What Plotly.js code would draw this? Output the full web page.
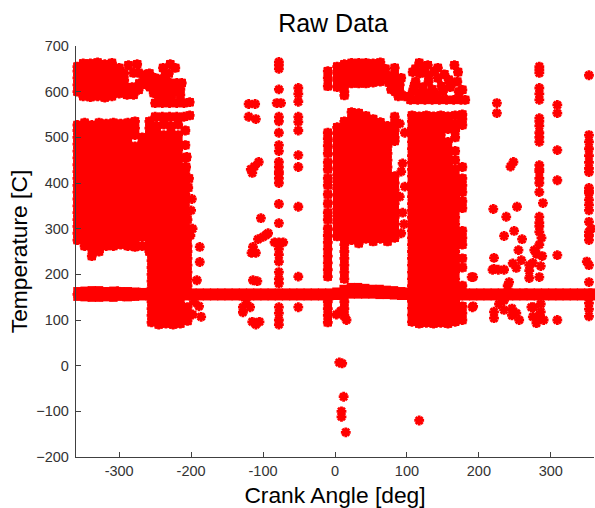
<!DOCTYPE html>
<html><head><meta charset="utf-8">
<script src="https://cdn.plot.ly/plotly-3.0.1.min.js"></script>
<style>html,body{margin:0;padding:0;background:#fff}</style></head>
<body><div id="chart" style="width:595px;height:508px"></div>
<script>
// Each region: a list of column x positions and, per column, the y readings.
const topLeftX=[-358,-350,-340,-330,-320,-310,-300,-293];
const topLeftY=[
[600,615,630,645,655],
[590,603,618,633,648,662],
[588,602,617,632,647,662],
[590,605,620,635,650,664],
[587,600,615,630,645,660],
[590,604,619,634,649,663],
[596,610,625,640,652],
[610,625,640]];
const leftBlockX=[-358,-348,-338,-328,-318,-308,-298,-288,-278,-268,-258,-248,-238,-228,-218,-208];
const leftBlockY=[
[275,290,305,320,335,350,365,380,395,410,425,440,455,470,485,500,515,527],
[262,278,293,308,323,338,353,368,383,398,413,428,443,458,473,488,503,518,532],
[240,258,272,287,302,317,332,347,362,377,392,407,422,437,452,467,482,497,512,527],
[250,265,280,295,310,325,340,355,370,385,400,415,430,445,460,475,490,505,520,532],
[262,277,292,307,322,337,352,367,382,397,412,427,442,457,472,487,502,517,530],
[262,275,290,305,320,335,350,365,380,395,410,425,440,455,470,485,500,515,532],
[265,282,297,312,327,342,357,372,387,402,417,432,447,462,477,492,507,522,530],
[262,278,293,308,323,338,353,368,383,398,413,428,443,458,473,488,503,518,532],
[260,275,290,305,320,335,350,365,380,395,410,425,440,455,470,480,505,520,535],
[262,282,297,312,327,342,357,372,387,402,417,432,447,462,477,490,500],
[250,265,280,295,310,325,340,355,370,385,400,415,430,445,460,475,490,505,520,535],
[255,270,285,300,315,330,345,360,375,390,405,420,435,450,465,480,495,510,525],
[262,277,292,307,322,337,352,367,382,397,412,427,442,457,472,487,505,528],
[255,270,285,300,315,330,345,360,375,390,405,420,435,450,465,480,495,510,525],
[262,277,292,307,322,337,352,367,382,397,412,427,442,457,472,490,505,528],
[255,270,285,300,315,330,345,360,375,390,405,420,435,455,483,515]];
const leftLowX=[-255,-245,-235,-225,-215,-205];
const leftLowY=[
[95,110,125,140,170,185,200,215,230,245,260],
[90,105,120,135,175,190,205,220,235,250],
[92,107,122,137,172,187,202,217,232,247,262],
[90,105,120,135,175,190,205,220,235,250],
[92,107,122,137,172,187,202,217,232,247,262],
[98,113,128,175,190,205,220,235,250,262,280,300,320]];
const leftUpperX=[-287,-275,-289,-280,-273,-264,-280,-273,-239,-229,-222,-231,-257,-250,-243,-257,-252,-243,-245,-229,-220,-213,-215,-222,-227,-215,-250,-240,-230,-220,-210,-202,-250,-240,-230,-220,-210,-202,-206,-207,-203,-236,-242,-204,-266,-258,-238,-234,-226,-236,-250,-262,-282,-272];
const leftUpperY=[658,660,593,593,604,637,641,641,652,660,652,640,626,630,626,610,597,597,582,619,619,619,605,600,593,593,575,575,575,575,575,577,545,545,545,545,545,548,457,435,410,636,612,390,625,640,625,610,605,592,612,615,610,618];
const leftExtraX=[-188,-188,-192,-189,-186,-196,-198,-199,-200,-198,-201];
const leftExtraY=[260,227,187,130,107,140,112,365,340,300,285];
const centerTopX=[-10,3,13,23,33,43,53,63,70];
const centerTopY=[
[645,630,612],
[655,640,625,610],
[660,645,630,615,600,592],
[663,648,633,618],
[663,648,633,618],
[663,648,633,618],
[662,647,632,620],
[664,649,634,622],
[650,635]];
const centerSideX=[83,83,92,75,85,78,90,88,97,80,90,74,84];
const centerSideY=[652,635,630,620,615,605,600,590,590,625,615,635,600];
const centerMainX=[-10,3,13,23,33,43,53,63,73,83];
const centerMainY=[
[510,497,482,465,445,430,410,395,375,355,335,320,300,285,270,255,240,225,210,195,140,125,110,95],
[522,508,493,478,463,448,433,418,403,388,373,358,343,328,313,298,283],
[535,520,505,490,475,460,445,430,415,400,385,370,355,340,325,310,295,280,265,250,235,220,205,190,140,125,110],
[555,540,525,510,495,480,465,450,435,420,405,390,375,360,345,330,315,300,285,275],
[553,538,523,508,493,478,463,448,433,418,403,388,373,358,343,328,313,298,283,268],
[547,532,517,502,487,472,457,442,427,412,397,382,367,352,337,322,307,292,278],
[540,525,510,495,480,465,450,435,420,405,390,375,360,345,330,315,300,285,272],
[533,518,503,488,473,458,443,428,413,398,383,368,353,338,323,308,293,278],
[525,510,495,480,465,450,435,420,405,390,375,360,345,330,315,300,285,272],
[545,530,515,500,492,415,400,385,370,355,340,325,310,295,280]];
const centerFringeX=[90,97,94,97,92,90,2,16,8,92,94,96];
const centerFringeY=[530,510,443,392,290,370,112,100,120,425,335,310];
const rightTopX=[117,129,143,108,118,130,143,166,171,162,177,112,122,135,150,172,105,115,125,135,145,155,165,175,181,108,118,128,138,148,158,112,124,138,152,160,130,110,170];
const rightTopY=[663,658,652,643,640,635,630,658,643,619,604,622,610,605,600,600,582,582,582,582,582,582,582,582,582,600,598,595,596,612,626,650,648,645,638,610,622,612,622];
const rightBlockX=[107,117,127,137,147,157,167,177];
const rightBlockY=[
[96,111,126,141,175,190,205,220,235,250,265,280,295,310,325,340,355,370,385,400,415,430,445,460,475,490,505,520,535,548],
[92,107,122,137,172,187,202,217,232,247,262,277,292,307,322,337,352,367,382,397,412,427,442,457,472,487,502,517,532,546],
[94,109,124,139,175,190,205,220,235,250,265,280,295,310,325,340,355,370,385,400,415,430,445,460,475,490,505,520,535,548],
[92,107,122,137,172,187,202,217,232,247,262,277,292,307,322,337,352,367,382,397,412,427,442,457,472,487,502,517,532,546],
[94,109,124,139,175,190,205,220,235,250,265,280,295,310,325,340,355,370,385,400,415,430,445,460,475,490,505,520,535,548],
[92,107,122,137,172,187,202,217,232,247,262,277,292,307,322,337,352,367,382,397,412,427,442,457,472,490,518,532,546],
[96,111,126,141,175,190,205,220,235,250,265,280,295,310,325,340,355,370,385,400,415,430,450,470,500,515,530,548],
[100,115,130,175,215,235,265,280,295,345,360,380,395,410,435,527,540,550]];
const rightExtraX=[190,191];
const rightExtraY=[194,128];
const bandX=[-358,-348,-338,-328,-318,-308,-298,-288,-278,-268,-258,-248,-238,-228,-218,-208,-198,-188,-178,-168,-158,-148,-138,-128,-118,-108,-98,-88,-78,-68,-58,-48,-38,-28,-18,-8,2,12,22,32,42,52,62,72,82,92,102,112,122,132,142,152,162,172,182,192,202,212,222,232,242,252,262,272,282,292,302,312,322,332,342,352,358];
const bandLowY=[151,150,149,149,150,149,151,150,151,152,152,152,152,152,152,152,152,152,152,152,152,152,152,152,152,152,152,152,152,152,152,152,152,152,152,152,153,155,156,156,156,156,155,155,154,153,153,152,152,152,152,152,152,152,152,152,152,152,152,152,152,152,152,152,152,152,152,152,152,152,152,152,152];
const bandHighY=[163,164,165,165,163,164,163,163,162,161,161,160,160,160,160,160,160,160,160,160,160,160,160,160,160,160,160,160,160,160,160,160,160,160,160,160,162,168,172,172,170,168,168,166,165,163,162,160,160,160,160,160,160,160,160,160,160,160,160,160,160,160,160,160,160,160,160,160,160,160,160,160,160];
const bandEdgeX=[-358,-350,-342,-335,-326,-318,-310,-302,-294,-288,-280,-272];
const bandEdgeY=[156,161,152,162,152,161,152,163,152,160,153,160];
const scatterMidX=[-120,-111,-120,-110,-106,-112,-115,-103,-93,-100,-107,-114,-116,-110,-114,-108,-128,-128,-118,-123,-126,-115,-105,-110,-117,-96];
const scatterMidY=[573,573,545,540,446,436,422,323,290,282,277,260,247,247,187,185,128,117,128,137,150,96,96,90,430,286];
const col78X=[-78,-78,-78,-81,-75,-78,-78,-78,-78,-78,-78,-78,-78,-78,-78,-78,-78,-84,-78,-72,-78,-78,-78,-78,-78,-78,-78,-78,-78,-78,-78,-78];
const col78Y=[665,650,605,575,575,545,535,510,483,470,446,435,420,410,400,354,312,270,270,270,255,243,228,205,190,128,115,100,90,658,425,180];
const col51X=[-51,-51,-51,-51,-51,-51,-51,-51,-51,-51,-51];
const col51Y=[608,595,578,545,515,461,435,348,195,128,534];
const scatterRightX=[225,225,248,244,309,309,309,309,309,220,253,238,249,235,260,255,221,219,235,227,247,259,252,192,192,221,235,235,221,221,252,256,246,242,309,240,246,228];
const scatterRightY=[575,553,446,436,571,553,472,406,242,343,348,326,295,284,277,253,236,210,210,210,224,231,214,194,130,212,143,122,118,104,115,100,125,183,100,175,110,135];
const col284X=[284,284,284,284,284,284,284,284,284,284,284,284,284,289,284,284,284,287,270,277,270,280,288,275,286,270,284,273,275,280,286,286,290,265,276,283,284,284,284,284,284,284,284];
const col284Y=[655,641,608,595,582,542,525,510,490,439,425,410,380,356,326,313,293,280,220,253,192,245,240,225,218,208,194,128,107,93,135,118,100,158,128,108,648,500,535,400,430,305,265];
const col353X=[353,353,353,353,353,353,353,353,353,353,353,353,353,353,353,353,353,353,353,353,353,353,353,356,350];
const col353Y=[636,505,490,475,460,445,424,389,378,352,315,293,275,220,183,137,124,108,432,285,340,382,363,300,228];
const negX=[6,10,12,9,9,15,117];
const negY=[7,5,-68,-100,-112,-146,-120];

function flat(xs,ys){const X=[],Y=[];xs.forEach((x,i)=>ys[i].forEach(y=>{X.push(x);Y.push(y);}));return [X,Y];}
const solidGroups=[flat(topLeftX,topLeftY),flat(leftBlockX,leftBlockY),flat(leftLowX,leftLowY),
 [leftUpperX,leftUpperY],flat(centerTopX,centerTopY),[centerSideX,centerSideY],
 flat(centerMainX,centerMainY),[rightTopX,rightTopY],flat(rightBlockX,rightBlockY),
 [bandX,bandLowY],[bandX,bandHighY]];
const starGroups=solidGroups.slice(0,9).concat([[bandEdgeX,bandEdgeY],[leftExtraX,leftExtraY],[centerFringeX,centerFringeY],[rightExtraX,rightExtraY],
 [scatterMidX,scatterMidY],[col78X,col78Y],[col51X,col51Y],[scatterRightX,scatterRightY],[col284X,col284Y],[col353X,col353Y],[negX,negY]]);
const traces=solidGroups.map(g=>({x:g[0],y:g[1],type:'scatter',mode:'markers',cliponaxis:false,hoverinfo:'skip',
 marker:{symbol:'square',size:8.4,color:'#ff0000',line:{width:0}}})).concat(
 starGroups.map(g=>({x:g[0],y:g[1],type:'scatter',mode:'markers',cliponaxis:false,hoverinfo:'skip',
 marker:{symbol:'asterisk-open',size:8.2,color:'#ff0000',line:{color:'#ff0000',width:2.8}}})));
const fam='"Liberation Sans",Arial,sans-serif';
const axisCommon={showgrid:false,zeroline:false,showline:true,linecolor:'#404040',linewidth:1.2,ticks:'inside',ticklen:5,tickwidth:1,tickcolor:'#404040',mirror:false,
 tickfont:{family:fam,size:14.5,color:'#333333'}};
const layout={width:595,height:508,margin:{l:75.5,r:0.5,t:46,b:51,pad:0},paper_bgcolor:'#fff',plot_bgcolor:'#fff',showlegend:false,
 title:{text:'Raw Data',x:0.5597,xanchor:'center',y:0.955,yanchor:'middle',font:{family:fam,size:25,color:'#000'}},
 xaxis:Object.assign({},axisCommon,{range:[-360,360],tickvals:[-300,-200,-100,0,100,200,300],ticktext:['-300','-200','-100','0','100','200','300'],
   title:{text:'Crank Angle [deg]',standoff:9,font:{family:fam,size:22.8,color:'#000'}}}),
 yaxis:Object.assign({},axisCommon,{range:[-200,700],tickvals:[-200,-100,0,100,200,300,400,500,600,700],ticklabelstandoff:3,
   title:{text:'Temperature [C]',standoff:2,font:{family:fam,size:22.8,color:'#000'}}})};
Plotly.newPlot('chart',traces,layout,{displayModeBar:false,staticPlot:true});
</script></body></html>
